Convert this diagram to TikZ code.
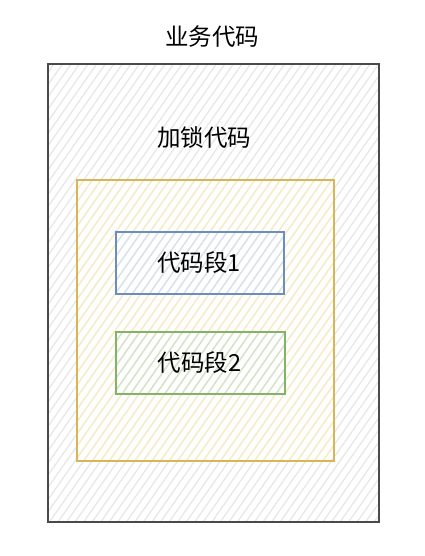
\documentclass[tikz,border=0pt]{standalone}
\usepackage{fontspec}
\setmainfont{Noto Sans CJK SC}
\usetikzlibrary{patterns.meta}
\definecolor{outerline}{HTML}{4A4A4A}
\definecolor{outerhatch}{HTML}{E6E6E6}
\definecolor{yline}{HTML}{D6B656}
\definecolor{yhatch}{HTML}{FCEBC0}
\definecolor{bline}{HTML}{6C8EBF}
\definecolor{bhatch}{HTML}{D3E2F5}
\definecolor{gline}{HTML}{82B366}
\definecolor{ghatch}{HTML}{D0E4CC}
\tikzset{
  box/.style={draw, rectangle, inner sep=0pt, line width=2pt, anchor=north west},
  hatch/.style={pattern={Lines[angle=55,distance=7pt,line width=1.2pt]}, pattern color=#1},
  lbl/.style={font=\fontsize{23.5}{26}\selectfont, inner sep=0pt}
}
\begin{document}
\begin{tikzpicture}[x=1pt,y=-1pt]
\useasboundingbox (0,0) rectangle (424,556);
\fill[white] (0,0) rectangle (424,556);
\node[box, draw=outerline, hatch=outerhatch, minimum width=331pt, minimum height=458pt] (outer) at (47,63) {};
\node[box, draw=yline, hatch=yhatch, minimum width=257pt, minimum height=281pt] (lock) at (76,179) {};
\node[box, draw=bline, hatch=bhatch, minimum width=168pt, minimum height=62pt] (seg1) at (115,231) {};
\node[box, draw=gline, hatch=ghatch, minimum width=169pt, minimum height=62pt] (seg2) at (115,331) {};
\node[lbl] (t1) at (212,37) {业务代码};
\node[lbl] (t2) at (204,138) {加锁代码};
\node[lbl] (l1) at ([xshift=-1pt]seg1.center) {代码段1};
\node[lbl] (l2) at ([xshift=-1pt]seg2.center) {代码段2};
\end{tikzpicture}
\end{document}
